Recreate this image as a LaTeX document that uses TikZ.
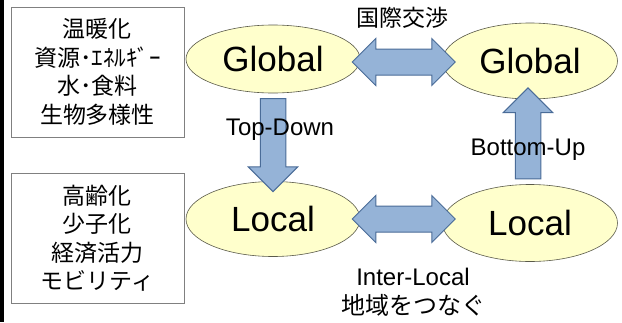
\documentclass[tikz,border=0pt]{standalone}
\usepackage{fontspec}
\setmainfont{Liberation Sans}
\newfontfamily\jpfont{Noto Sans CJK JP}
\usetikzlibrary{shapes.geometric,shapes.arrows,calc}
\definecolor{lvlfill}{HTML}{FFFFCC}
\definecolor{lvlline}{HTML}{5A5A4A}
\definecolor{arrfill}{HTML}{95B3D7}
\definecolor{arrline}{HTML}{4A6C98}

\begin{document}
\begin{tikzpicture}[x=1pt, y=-1pt,
    level/.style={ellipse, draw=lvlline, fill=lvlfill, line width=0.6pt,
                  inner sep=0pt, font=\fontsize{35}{40}\selectfont},
    issuebox/.style={draw=gray, line width=0.6pt, minimum width=173pt, minimum height=130pt,
                  align=center, font=\jpfont\fontsize{23}{28.5}\selectfont},
    dblarrow/.style={double arrow, draw=arrline, fill=arrfill, line width=1pt,
                  minimum height=103pt, inner sep=12.5pt,
                  double arrow head extend=10.5pt},
    onearrow/.style={single arrow, draw=arrline, fill=arrfill, line width=1pt,
                  inner sep=12.25pt, single arrow head extend=12pt},
    lbl/.style={font=\fontsize{24}{29}\selectfont, align=center},
    ]
    \fill[white] (0,0) rectangle (622,322);
    \useasboundingbox (0,0) rectangle (622,322);
    \fill[black] (0,0) rectangle (4,322);   %% left rule

    %% issue boxes
    \node[issuebox] (gissue) at (97.5,72)  {温暖化\\資源･ｴﾈﾙｷﾞｰ\\水･食料\\生物多様性};
    \node[issuebox] (lissue) at (97.5,238) {高齢化\\少子化\\経済活力\\モビリティ};

    %% the four levels
    \node[level, minimum width=174pt, minimum height=68pt] (gl) at (273,59)  {Global};
    \node[level, minimum width=175pt, minimum height=76pt] (gr) at (530,61)  {Global};
    \node[level, minimum width=174pt, minimum height=75pt] (ll) at (273,219) {Local};
    \node[level, minimum width=175pt, minimum height=77pt] (lr) at (530,223) {Local};

    %% block arrows between levels
    \node[dblarrow] (talks) at ($(gl.east)!.5!(gr.west)+(2.5,2)$) {};
    \node[dblarrow] (link)  at ($(ll.east)!.5!(lr.west)+(2.5,-2)$) {};
    \node[onearrow, shape border rotate=270, minimum height=93pt] (down) at ($(gl.south)!.5!(ll.north)+(0,1.5)$) {};
    \node[onearrow, shape border rotate=90,  minimum height=91pt] (up)   at ($(gr.south)!.5!(lr.north)+(-2,-2)$) {};

    %% labels
    \node[lbl, font=\jpfont\fontsize{23}{29}\selectfont] (talkslbl) at (402,18) {国際交渉};
    \node[lbl] (downlbl) at (280,130) {Top-Down};
    \node[lbl] (uplbl)   at (528,150) {Bottom-Up};
    \node[lbl] (linklbl) at (413,292) {Inter-Local\\{\jpfont 地域をつなぐ}};
\end{tikzpicture}
\end{document}
